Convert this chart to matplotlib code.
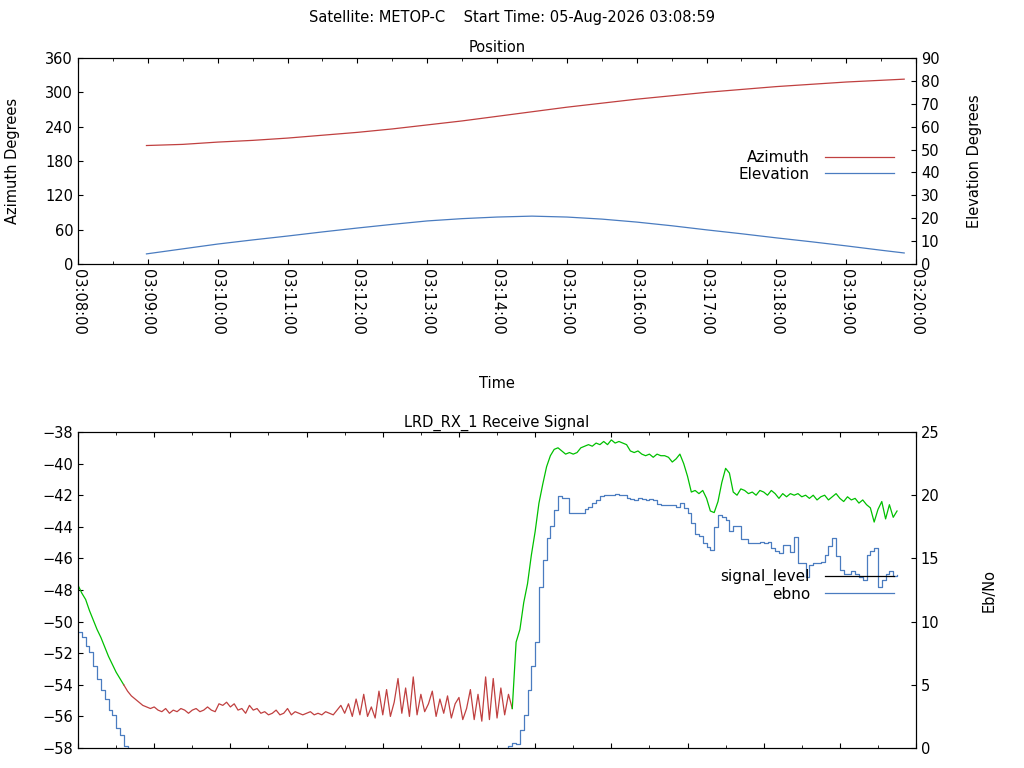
import numpy as np
import matplotlib
matplotlib.use("Agg")
import matplotlib.pyplot as plt
from matplotlib.lines import Line2D
from matplotlib.ticker import MultipleLocator, FuncFormatter

# Position pass (minutes after 03:08:00)
pos_min = [0.98, 1.5, 2, 2.5, 3, 3.5, 4, 4.5, 5, 5.5, 6, 6.5, 7, 7.5, 8, 8.5,
           9, 9.5, 10, 10.5, 11, 11.5, 11.83]
azimuth = [207, 209, 213, 216, 220, 225, 230, 236, 243, 250, 258, 266, 274,
           281, 288, 294, 300, 305, 310, 314, 318, 321, 323]
elevation = [4.4, 6.6, 8.7, 10.5, 12.2, 14.0, 15.7, 17.3, 18.8, 19.8, 20.5,
             20.9, 20.5, 19.6, 18.3, 16.7, 14.9, 13.2, 11.4, 9.7, 7.9, 6.0, 4.8]

# Receive signal, one sample per 3 s after 03:09:00
signal_level = [
    -47.7, -48.2, -48.6, -49.3, -49.9, -50.5, -51.0, -51.6, -52.2, -52.7, -53.2, -53.6,
    -54.0, -54.4, -54.7, -54.9, -55.1, -55.3, -55.4, -55.5, -55.4, -55.6, -55.7, -55.5,
    -55.8, -55.6, -55.7, -55.5, -55.6, -55.8, -55.6, -55.5, -55.7, -55.6, -55.4, -55.6,
    -55.7, -55.2, -55.3, -55.1, -55.4, -55.2, -55.6, -55.5, -55.8, -55.3, -55.6, -55.5,
    -55.8, -55.7, -55.9, -55.8, -55.6, -55.9, -55.8, -55.5, -55.9, -55.7, -55.8, -55.9,
    -55.8, -55.7, -55.9, -55.8, -55.9, -55.7, -55.8, -55.9, -55.6, -55.3, -55.8, -55.2,
    -56.0, -54.9, -55.9, -54.6, -56.0, -55.4, -56.1, -54.4, -55.9, -54.3, -56.0, -55.1,
    -53.6, -55.8, -54.2, -56.0, -53.5, -55.9, -54.6, -55.7, -55.2, -54.4, -56.0, -54.9,
    -55.8, -54.7, -56.1, -55.2, -54.8, -56.2, -55.5, -54.3, -56.2, -54.6, -56.3, -53.5,
    -56.2, -53.6, -56.1, -54.2, -55.9, -54.6, -55.5, -51.3, -50.5, -48.8, -47.6, -45.8,
    -44.3, -42.5, -41.3, -40.2, -39.5, -39.1, -39.0, -39.2, -39.4, -39.3, -39.4, -39.3,
    -39.0, -38.9, -38.8, -38.9, -38.7, -38.8, -38.6, -38.8, -38.5, -38.7, -38.6, -38.7,
    -38.8, -39.2, -39.3, -39.2, -39.4, -39.5, -39.4, -39.6, -39.4, -39.5, -39.5, -39.6,
    -39.9, -39.7, -39.4, -40.0, -40.8, -41.8, -41.7, -41.9, -41.7, -42.2, -43.0, -43.1,
    -42.4, -41.2, -40.3, -40.6, -41.8, -42.0, -41.6, -41.7, -41.9, -41.8, -42.0, -41.7,
    -41.8, -42.0, -41.7, -41.9, -42.2, -41.9, -42.1, -41.9, -42.0, -41.9, -42.1, -42.0,
    -42.2, -42.0, -42.3, -42.1, -42.0, -42.3, -42.1, -41.9, -42.2, -42.4, -42.1, -42.3,
    -42.2, -42.5, -42.3, -42.6, -42.8, -43.7, -42.9, -42.4, -43.5, -42.6, -43.4, -43.0,
]
ebno = [
    9.2, 8.8, 8.1, 7.6, 6.5, 5.5, 4.6, 3.9, 3.0, 2.6, 1.6, 1.0,
    0.2, -0.6, -1.2, -1.8, -2.0, -2.0, -2.0, -2.0, -2.0, -2.0, -2.0, -2.0,
    -2.0, -2.0, -2.0, -2.0, -2.0, -2.0, -2.0, -2.0, -2.0, -2.0, -2.0, -2.0,
    -2.0, -2.0, -2.0, -2.0, -2.0, -2.0, -2.0, -2.0, -2.0, -2.0, -2.0, -2.0,
    -2.0, -2.0, -2.0, -2.0, -2.0, -2.0, -2.0, -2.0, -2.0, -2.0, -2.0, -2.0,
    -2.0, -2.0, -2.0, -2.0, -2.0, -2.0, -2.0, -2.0, -2.0, -2.0, -2.0, -2.0,
    -2.0, -2.0, -2.0, -2.0, -2.0, -2.0, -2.0, -2.0, -2.0, -2.0, -2.0, -2.0,
    -2.0, -2.0, -2.0, -2.0, -2.0, -2.0, -2.0, -2.0, -2.0, -2.0, -2.0, -2.0,
    -2.0, -2.0, -2.0, -2.0, -2.0, -2.0, -2.0, -2.0, -2.0, -2.0, -2.0, -2.0,
    -2.0, -2.0, -2.0, -2.0, -1.0, 0.2, 0.4, 0.3, 1.4, 2.6, 4.6, 6.5,
    8.4, 12.7, 14.9, 16.6, 17.6, 18.8, 19.9, 19.8, 19.8, 18.6, 18.6, 18.6,
    18.6, 18.9, 19.1, 19.4, 19.6, 19.9, 20.0, 20.0, 20.0, 20.1, 20.0, 20.0,
    19.8, 19.7, 19.6, 19.8, 19.7, 19.6, 19.7, 19.6, 19.3, 19.2, 19.2, 19.2,
    19.2, 19.1, 19.4, 19.0, 18.6, 17.8, 16.9, 16.8, 16.2, 15.9, 15.7, 17.5,
    18.4, 18.3, 18.0, 17.2, 17.6, 17.6, 16.5, 16.5, 16.2, 16.2, 16.2, 16.3,
    16.2, 16.3, 15.8, 15.6, 15.4, 16.1, 16.1, 15.5, 16.7, 14.6, 14.6, 13.5,
    14.5, 14.6, 14.6, 14.7, 15.3, 16.0, 16.6, 15.2, 14.1, 13.8, 13.8, 14.0,
    13.8, 13.5, 13.3, 15.3, 15.6, 15.8, 12.7, 13.3, 13.8, 14.0, 13.6, 13.7,
]
unlocked_from, unlocked_to = 36, 342  # seconds with no lock (red)

plt.rcParams["font.family"] = "DejaVu Sans"
plt.rcParams["font.size"] = 9
RED, BLUE, GREEN = "#c04040", "#4a7cc0", "#00c000"

fig = plt.figure(figsize=(10.24, 7.68), dpi=100)
fig.text(0.5, 0.977, "Satellite: METOP-C    Start Time: 05-Aug-2026 03:08:59",
         ha="center", va="center", fontsize=10.5)

# Position
ax = fig.add_axes([0.0762, 0.6563, 0.8184, 0.2682])
ax.plot(pos_min, azimuth, color=RED, lw=0.9, label="Azimuth")
ax.set_xlim(0, 12)
ax.set_ylim(0, 360)
ax.yaxis.set_major_locator(MultipleLocator(60))
ax.xaxis.set_major_locator(MultipleLocator(1))
ax.xaxis.set_minor_locator(MultipleLocator(0.5))
ax.xaxis.set_major_formatter(FuncFormatter(lambda v, p: f"03:{8 + int(round(v)):02d}:00"))
ax.tick_params(axis="x", which="both", direction="in", top=True, labelrotation=-90, labelsize=10.5)
ax.tick_params(axis="y", direction="in", labelsize=10.5)
ax.set_ylabel("Azimuth Degrees", fontsize=10.5, labelpad=18)
ax.set_xlabel("Time", fontsize=10.5, labelpad=30)
ax.set_title("Position", fontsize=10.5, pad=4)
ax2 = ax.twinx()
ax2.plot(pos_min, elevation, color=BLUE, lw=0.9, label="Elevation")
ax2.set_ylim(0, 90)
ax2.yaxis.set_major_locator(MultipleLocator(10))
ax2.tick_params(axis="y", direction="in", labelsize=10.5)
ax2.set_ylabel("Elevation Degrees", fontsize=10.5, labelpad=20)
handles = [Line2D([], [], color=RED, lw=0.9), Line2D([], [], color=BLUE, lw=0.9)]
ax2.legend(handles, ["Azimuth", "Elevation"], loc="upper right", bbox_to_anchor=(0.99, 0.62),
           frameon=False, markerfirst=False, fontsize=11, handlelength=4.5,
           labelspacing=0.1, handletextpad=1.0, alignment="right")

# Receive signal
t = np.arange(len(signal_level)) * 3
sig = np.array(signal_level)
bx = fig.add_axes([0.0762, 0.026, 0.8184, 0.4115])
m1 = t <= unlocked_from
m2 = (t >= unlocked_from) & (t <= unlocked_to)
m3 = t >= unlocked_to
bx.plot(t[m1], sig[m1], color=GREEN, lw=0.9)
bx.plot(t[m2], sig[m2], color=RED, lw=0.9)
bx.plot(t[m3], sig[m3], color=GREEN, lw=0.9)
bx.set_xlim(0, 660)
bx.set_ylim(-58, -38)
bx.yaxis.set_major_locator(MultipleLocator(2))
bx.xaxis.set_major_locator(MultipleLocator(60))
bx.xaxis.set_minor_locator(MultipleLocator(30))
bx.tick_params(axis="x", which="both", direction="in", top=True, labelbottom=False)
bx.tick_params(axis="y", direction="in", labelsize=10.5)
bx.set_ylabel("dB", fontsize=10.5, labelpad=28)
bx.set_title("LRD_RX_1 Receive Signal", fontsize=10.5, pad=4)
bx2 = bx.twinx()
bx2.plot(t, ebno, color=BLUE, lw=0.9, drawstyle="steps-post")
bx2.set_ylim(0, 25)
bx2.yaxis.set_major_locator(MultipleLocator(5))
bx2.tick_params(axis="y", direction="in", labelsize=10.5)
bx2.set_ylabel("Eb/No", fontsize=10.5, labelpad=30)
handles = [Line2D([], [], color="black", lw=0.9), Line2D([], [], color=BLUE, lw=0.9)]
bx2.legend(handles, ["signal_level", "ebno"], loc="upper right", bbox_to_anchor=(0.99, 0.61),
           frameon=False, markerfirst=False, fontsize=11, handlelength=4.5,
           labelspacing=0.1, handletextpad=1.0, alignment="right")

fig.savefig("out.png", dpi=100)
